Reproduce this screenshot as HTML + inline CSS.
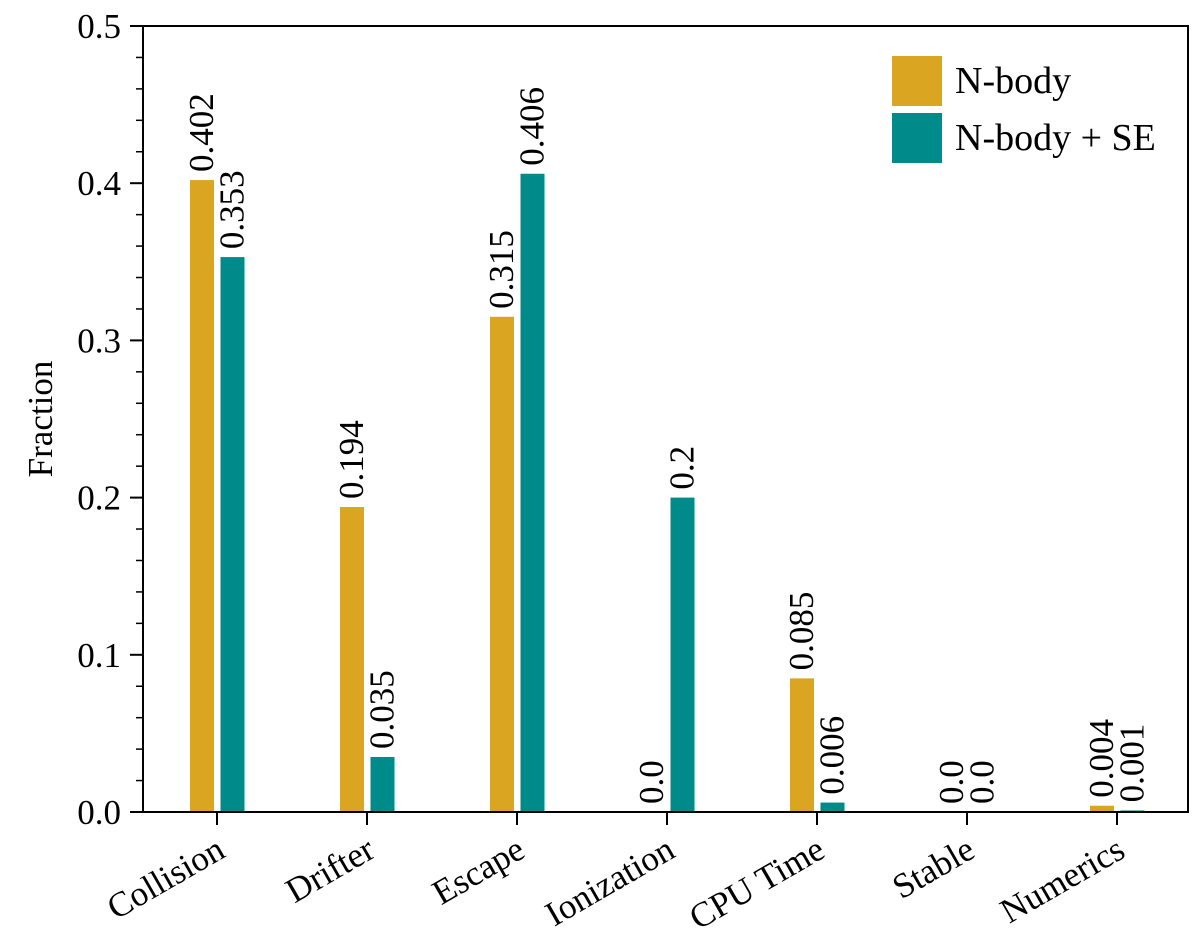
<!DOCTYPE html>
<html><head><meta charset="utf-8"><style>
html,body{margin:0;padding:0;background:#fff;}
svg text{font-family:"Liberation Serif","DejaVu Serif",serif;fill:#000;}
</style></head><body>
<svg id="chart" width="1200" height="939" viewBox="0 0 1200 939" xmlns="http://www.w3.org/2000/svg"></svg>
<script>
const categories=["Collision","Drifter","Escape","Ionization","CPU Time","Stable","Numerics"];
const nbody=[0.402,0.194,0.315,0.0,0.085,0.0,0.004];
const nbodySE=[0.353,0.035,0.406,0.2,0.006,0.0,0.001];
const nbodyLabels=["0.402","0.194","0.315","0.0","0.085","0.0","0.004"];
const nbodySELabels=["0.353","0.035","0.406","0.2","0.006","0.0","0.001"];
const yTicks=[0,0.1,0.2,0.3,0.4,0.5];
const yTickLabels=["0.0","0.1","0.2","0.3","0.4","0.5"];

const svg=document.getElementById('chart');
const NS="http://www.w3.org/2000/svg";
const L=143,R=1188,T=26,B=812;
function y(v){return B-(v/0.5)*(B-T);}
function xc(i){return 217+i*150;}
function mk(tag,attrs,parent){const e=document.createElementNS(NS,tag);for(const k in attrs)e.setAttribute(k,attrs[k]);(parent||svg).appendChild(e);return e;}

categories.forEach((c,i)=>{
  const series=[[nbody,nbodyLabels,-15,"#DAA520","gold"],[nbodySE,nbodySELabels,15.5,"#008B8B","teal"]];
  series.forEach(([vals,labs,off,col,nm])=>{
    const cx=xc(i)+off, v=vals[i];
    const r=mk('rect',{x:cx-12,y:y(v),width:24,height:B-y(v),fill:col});
    
    
    const t=mk('text',{x:0,y:0,'font-size':35,transform:`translate(${cx+11},${y(v)-8}) rotate(-90)`});
    t.textContent=labs[i];
    
    
  });
  const tk=mk('line',{x1:xc(i),x2:xc(i),y1:B,y2:B+13,stroke:'#000','stroke-width':2});
  
  
  const tl=mk('text',{x:0,y:0,'font-size':35,'text-anchor':'end',transform:`translate(${xc(i)+10},${B+44}) rotate(-30)`});
  tl.textContent=c;
  
  
});

yTicks.forEach((v,i)=>{
  const tk=mk('line',{x1:L-13,x2:L,y1:y(v),y2:y(v),stroke:'#000','stroke-width':2});
  
  
  const tl=mk('text',{x:L-22,y:y(v)+12,'font-size':35,'text-anchor':'end'});
  tl.textContent=yTickLabels[i];
  
  
});
for(let k=1;k<25;k++){
  if(k%5===0)continue;
  const v=k*0.02;
  const m=mk('line',{x1:L-7,x2:L,y1:y(v),y2:y(v),stroke:'#000','stroke-width':1.5});
  
  
}
const fr=mk('rect',{x:L,y:T,width:R-L,height:B-T,fill:'none',stroke:'#000','stroke-width':2});


const yt=mk('text',{x:0,y:0,'font-size':35,'text-anchor':'middle',transform:`translate(52,${(T+B)/2}) rotate(-90)`});
yt.textContent="Fraction";



const g=mk('g',{});


[["N-body","#DAA520",56],["N-body + SE","#008B8B",113]].forEach(([lab,col,yy])=>{
  const r=mk('rect',{x:892,y:yy,width:50,height:50,fill:col},g);
  
  
  const t=mk('text',{x:955,y:yy+37,'font-size':38},g);
  t.textContent=lab;
  
  
});
</script>
</body></html>
